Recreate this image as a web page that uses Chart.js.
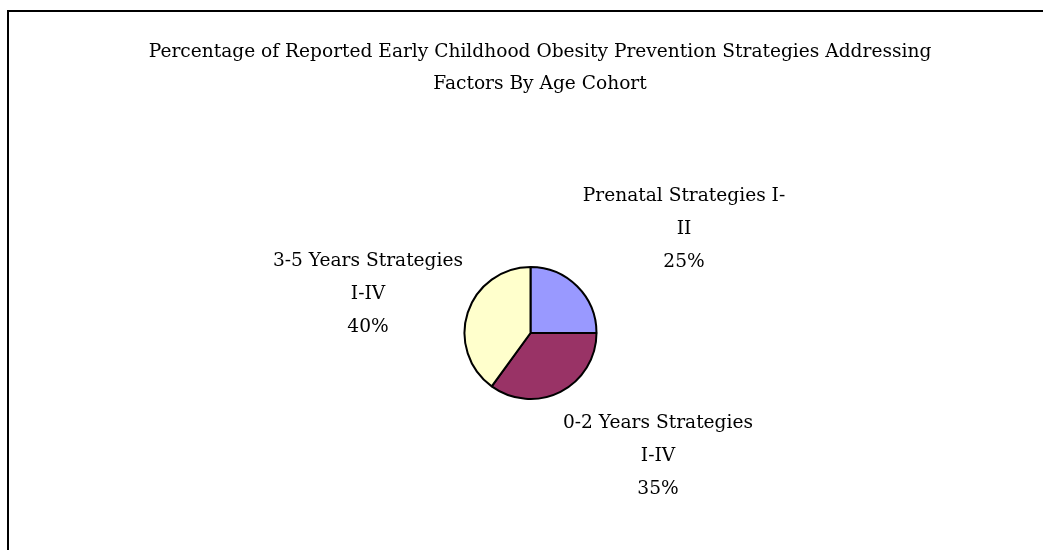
<!DOCTYPE html>
<html>
<head>
<meta charset="utf-8">
<script src="https://cdn.jsdelivr.net/npm/chart.js@4"></script>
<style>
  body { margin: 0; background: #fff; }
  #wrap { position: relative; width: 1043px; height: 550px; overflow: hidden; }
  /* chart frame, runs off the right and bottom edge */
  #frame {
    position: absolute; left: 7px; top: 10px; width: 1100px; height: 600px;
    border-left: 2px solid #000; border-top: 2px solid #000;
  }
  #pie { position: absolute; left: 0; top: 0; }
</style>
</head>
<body>
<div id="wrap">
  <div id="frame"></div>
  <canvas id="pie" width="1043" height="550"></canvas>
</div>
<script>
// data
const titleLines = [
  "Percentage of Reported Early Childhood Obesity Prevention Strategies Addressing",
  "Factors By Age Cohort"
];
const categories = [
  "Prenatal Strategies I-II",
  "0-2 Years Strategies I-IV",
  "3-5 Years Strategies I-IV"
];
const shares = [25, 35, 40];
const sliceColors = ["#9999FF", "#993366", "#FFFFCC"];

// layout
const FONT = '18.6px "DejaVu Serif"';
const LINE_H = 33;
const WRAP_W = 205;
// label block centres, relative to the pie centre
const labelOffsets = [
  { dx: 153.5, dy: -104 },
  { dx: 127.5, dy: 123 },
  { dx: -162.5, dy: -39 }
];

// break a category name at spaces / hyphens so each line fits maxW
function wrapLabel(ctx, text, maxW) {
  const parts = text.match(/[^\s-]+-?\s*|\s+/g) || [text];
  const lines = [];
  let cur = "";
  parts.forEach((p) => {
    const test = cur + p;
    if (cur && ctx.measureText(test.trimEnd()).width > maxW) {
      lines.push(cur.trimEnd());
      cur = p;
    } else {
      cur = test;
    }
  });
  if (cur) lines.push(cur.trimEnd());
  return lines;
}

const textPlugin = {
  id: "pieText",
  afterDraw(chart) {
    const ctx = chart.ctx;
    ctx.save();
    ctx.font = FONT;
    ctx.fillStyle = "#000";
    ctx.textAlign = "center";
    ctx.textBaseline = "middle";

    // title
    titleLines.forEach((t, i) => ctx.fillText(t, 540, 52 + i * 32));

    // slice labels: name + percent
    const meta = chart.getDatasetMeta(0);
    const total = shares.reduce((a, b) => a + b, 0);
    meta.data.forEach((arc, i) => {
      const lines = wrapLabel(ctx, categories[i], WRAP_W);
      lines.push(Math.round((shares[i] / total) * 100) + "%");
      const cx = arc.x + labelOffsets[i].dx;
      const cy = arc.y + labelOffsets[i].dy;
      const y0 = cy - ((lines.length - 1) * LINE_H) / 2;
      lines.forEach((l, j) => ctx.fillText(l, cx, y0 + j * LINE_H));
    });
    ctx.restore();
  }
};

new Chart(document.getElementById("pie"), {
  type: "pie",
  data: {
    labels: categories,
    datasets: [
      {
        data: shares,
        backgroundColor: sliceColors,
        borderColor: "#000",
        borderWidth: 2
      }
    ]
  },
  options: {
    responsive: false,
    animation: false,
    devicePixelRatio: 1,
    radius: 66,
    layout: { padding: { left: 464, right: 446, top: 267, bottom: 151 } },
    plugins: {
      legend: { display: false },
      title: { display: false },
      tooltip: { enabled: false }
    }
  },
  plugins: [textPlugin]
});
</script>
</body>
</html>
